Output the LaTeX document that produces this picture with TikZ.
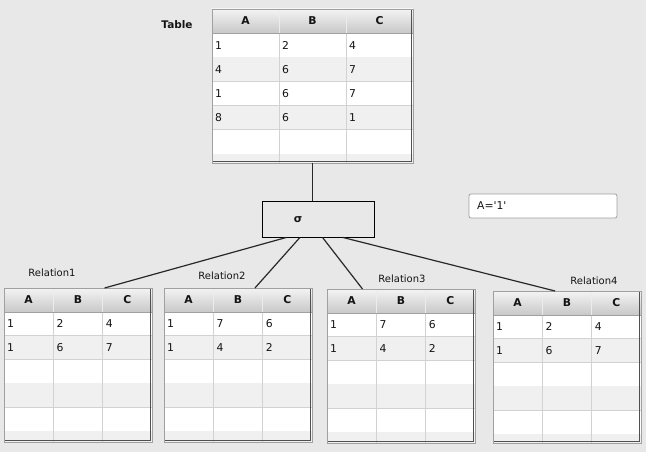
\documentclass[tikz,border=0pt]{standalone}
\usepackage{fontspec}
\setmainfont{DejaVu Sans}
\usetikzlibrary{calc}
\definecolor{bg}{RGB}{232,232,232}
\definecolor{rowalt}{RGB}{240,240,240}
\definecolor{gridc}{RGB}{210,210,210}
\definecolor{framelight}{RGB}{160,160,160}
\definecolor{framedark}{RGB}{80,80,80}
\definecolor{headtop}{RGB}{244,244,244}
\definecolor{headbot}{RGB}{200,200,200}
\definecolor{ink}{RGB}{20,20,20}
\definecolor{wire}{RGB}{40,40,40}
\tikzset{
  tabframe/.style={draw=framelight, line width=0.8pt, inner sep=0pt, outer sep=0pt, anchor=north west},
  cell/.style={anchor=west, inner sep=0pt, text=ink, font=\fontsize{10.8}{12}\selectfont},
  headcell/.style={anchor=center, inner sep=0pt, text=ink, font=\fontsize{10.8}{12}\selectfont\bfseries},
  tablabel/.style={inner sep=0pt, text=ink, font=\fontsize{10}{12}\selectfont},
  wireline/.style={draw=wire, line width=1.2pt},
}
% #1 name, #2 x0, #3 col width, #4 ytop, #5 ybottom, #6 row height, #7 data rows a/b/c
\newcommand\dbtable[7]{%
  \begin{scope}
    \clip (#2,#4) rectangle ({#2+3*#3},#5);
    \fill[white] (#2,#4) rectangle ({#2+3*#3},#5);
    \foreach \i in {0,...,7} {
      \ifodd\i
        \fill[rowalt] (#2,{#4+24+\i*#6}) rectangle ({#2+3*#3},{#4+24+(\i+1)*#6});
      \fi
      \draw[gridc, line width=0.8pt] (#2,{#4+24+(\i+1)*#6}) -- ({#2+3*#3},{#4+24+(\i+1)*#6});
    }
    \draw[gridc, line width=0.8pt] ({#2+#3},#4) -- ({#2+#3},#5);
    \draw[gridc, line width=0.8pt] ({#2+2*#3},#4) -- ({#2+2*#3},#5);
    \shade[top color=headtop, bottom color=headbot] (#2,#4) rectangle ({#2+3*#3},{#4+24});
    \draw[white!85!gray, line width=0.8pt] ({#2+#3},#4) -- ({#2+#3},{#4+24});
    \draw[white!85!gray, line width=0.8pt] ({#2+2*#3},#4) -- ({#2+2*#3},{#4+24});
    \draw[framelight, line width=0.6pt] (#2,{#4+24}) -- ({#2+3*#3},{#4+24});
  \end{scope}
  \node[headcell] (#1-ha) at ({#2+0.5*#3},{#4+12}) {A};
  \node[headcell] (#1-hb) at ({#2+1.5*#3},{#4+12}) {B};
  \node[headcell] (#1-hc) at ({#2+2.5*#3},{#4+12}) {C};
  \foreach \a/\b/\c [count=\r from 0] in {#7} {
    \node[cell] (#1-\r-a) at ({#2+3},{#4+24+(\r+0.5)*#6}) {\a};
    \node[cell] (#1-\r-b) at ({#2+#3+3},{#4+24+(\r+0.5)*#6}) {\b};
    \node[cell] (#1-\r-c) at ({#2+2*#3+3},{#4+24+(\r+0.5)*#6}) {\c};
  }
  \node[tabframe, minimum width={3*#3pt}, minimum height={(#5-#4)*1pt}] (#1) at (#2,#4) {};
  \draw[framedark, line width=1.4pt]
    ([xshift=-1.6pt,yshift=-1pt]#1.north east) -- ([xshift=-1.6pt,yshift=1.6pt]#1.south east)
    -- ([xshift=1pt,yshift=1.6pt]#1.south west);
}
\begin{document}
\begin{tikzpicture}[x=1pt,y=-1pt]
\fill[bg] (0,0) rectangle (646,452);
\useasboundingbox (0,0) rectangle (646,452);

% main table
\dbtable{tbl}{212}{67}{9}{163}{24.2}{1/2/4,4/6/7,1/6/7,8/6/1}
\node[tablabel, font=\fontsize{10.5}{12}\selectfont\bfseries] (tbllabel) at (177,25) {Table};

% selection box
\node[draw=black, line width=0.9pt, fill=bg, minimum width=112pt, minimum height=36pt, inner sep=0pt] (sigma) at (318,219) {};
\node[inner sep=0pt, font=\fontsize{10.8}{12}\selectfont\bfseries, text=ink] (sigmatext) at (298,220) {σ};

% condition box
\node[draw=framelight, fill=white, rounded corners=2pt, line width=0.8pt, minimum width=148pt, minimum height=24pt, inner sep=0pt] (cond) at (543,206) {};
\node[cell] (condtext) at (477,206) {A=\textquotesingle1\textquotesingle};

% result relations
\dbtable{relA}{4}{49.3}{288}{442}{23.8}{1/2/4,1/6/7}
\dbtable{relB}{164}{49.3}{288}{442}{23.8}{1/7/6,1/4/2}
\dbtable{relC}{327}{49.3}{289}{443}{23.8}{1/7/6,1/4/2}
\dbtable{relD}{493}{49.3}{291}{443}{23.8}{1/2/4,1/6/7}

\node[tablabel] (labA) at (52,273) {Relation1};
\node[tablabel] (labB) at (222,276) {Relation2};
\node[tablabel] (labC) at (402,279) {Relation3};
\node[tablabel] (labD) at (594,281) {Relation4};

% connectors
\draw[wireline] (tbl.south) -- (tbl.south |- sigma.north);
\draw[wireline] ($(sigma.south west)!0.22!(sigma.south east)$) -- ($(relA.north west)!0.68!(relA.north east)$);
\draw[wireline] ($(sigma.south west)!0.34!(sigma.south east)$) -- ($(relB.north west)!0.615!(relB.north east)$);
\draw[wireline] ($(sigma.south west)!0.54!(sigma.south east)$) -- ($(relC.north west)!0.24!(relC.north east)$);
\draw[wireline] ($(sigma.south west)!0.72!(sigma.south east)$) -- ($(relD.north west)!0.42!(relD.north east)$);
\end{tikzpicture}
\end{document}
